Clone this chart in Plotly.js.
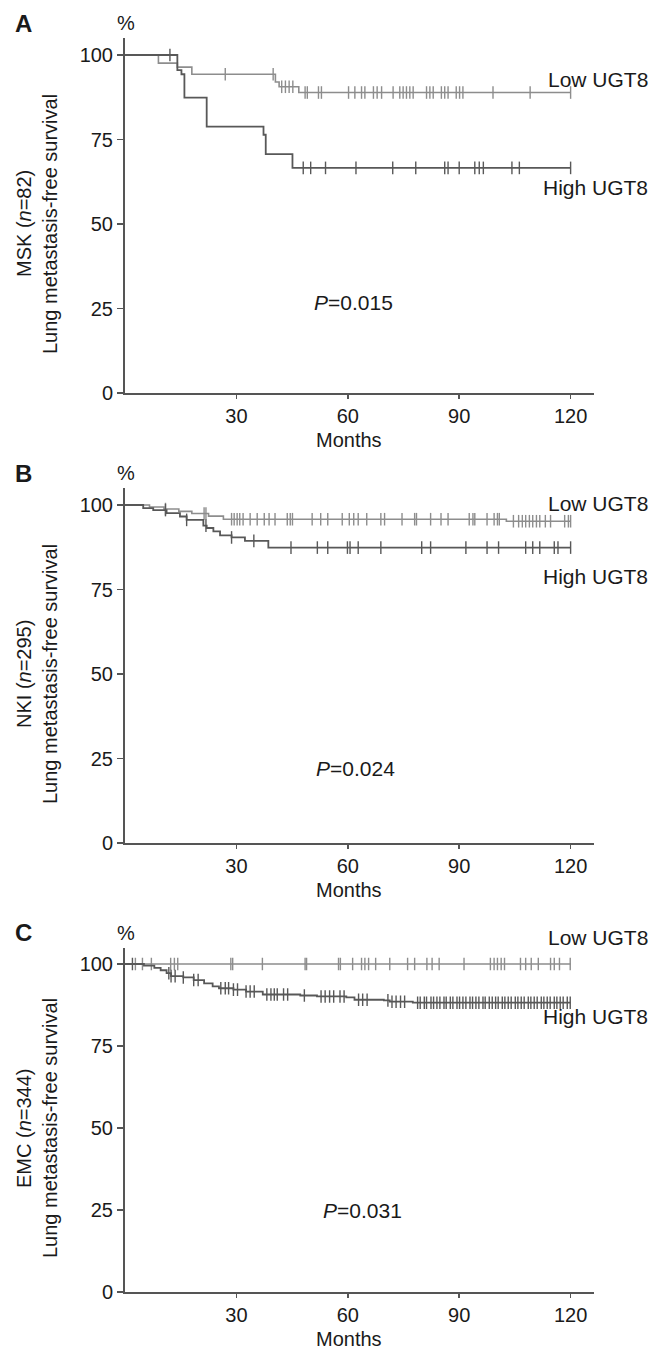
<!DOCTYPE html>
<html>
<head>
<meta charset="utf-8">
<script src="https://cdn.plot.ly/plotly-3.0.1.min.js"></script>
<style>html,body{margin:0;padding:0;background:#fff;}#chart{width:654px;height:1351px;}</style>
</head>
<body>
<div id="chart"></div>
<script>
// ---------- DATA ----------
// Panel A (MSK, n=82)
var aLowT  = [0, 9.0, 14.1, 18.0, 40.5, 41.5, 46.8, 120];
var aLowS  = [100, 97.6, 96.4, 94.3, 92.0, 90.6, 88.9, 88.9];
var aLowC  = [27.0, 39.9, 42.2, 43.2, 44.2, 45.2, 48.5, 49.1, 52.1, 52.9, 60.2, 61.9, 63.7, 64.6, 66.9, 67.9, 69.1, 72.2, 74.0, 74.9, 75.8, 76.7, 77.6, 81.2, 82.1, 83.0, 85.2, 86.1, 87.0, 89.2, 90.1, 91.0, 99.1, 109.1, 120];
var aHighT = [0, 14.1, 15.2, 16.0, 22.0, 37.3, 37.9, 45.1, 120];
var aHighS = [100, 95.5, 94.3, 87.4, 78.8, 76.4, 70.7, 66.6, 66.6];
var aHighC = [12.1, 48.0, 50.0, 54.0, 62.2, 72.1, 78.3, 86.1, 87.0, 90.0, 94.2, 95.4, 96.5, 104.2, 106.2, 120];

// Panel B (NKI, n=295)
var bLowT  = [0, 6.6, 10.5, 14.5, 18.0, 22.5, 26.5, 102.7, 120];
var bLowS  = [100, 99.4, 98.8, 98.1, 97.5, 96.7, 95.8, 95.2, 95.2];
var bLowC  = [10.9, 21.3, 21.8, 28.7, 29.4, 30.2, 30.9, 31.8, 33.7, 35.6, 37.5, 38.8, 40.4, 43.7, 44.5, 45.1, 50.4, 52.7, 54.6, 58.5, 60.4, 61.6, 62.8, 65.1, 68.9, 69.9, 74.6, 78.0, 78.5, 82.3, 85.1, 87.0, 92.7, 93.7, 94.2, 97.5, 99.4, 100.3, 100.8, 104.6, 106.0, 107.0, 107.9, 108.9, 109.8, 110.8, 111.7, 113.2, 114.6, 118.4, 119.4, 120];
var bHighT = [0, 4.9, 7.6, 11.2, 14.8, 16.6, 21.1, 22.0, 23.8, 25.6, 28.7, 32.3, 38.6, 120];
var bHighS = [100, 99.1, 98.5, 97.6, 96.6, 95.6, 93.9, 93.2, 92.2, 91.0, 90.4, 89.4, 87.4, 87.4];
var bHighC = [10.9, 16.6, 21.8, 28.7, 34.7, 44.7, 51.8, 54.6, 59.9, 60.6, 62.8, 68.9, 79.9, 82.3, 91.8, 97.5, 100.6, 107.9, 109.8, 111.7, 115.6, 116.6, 120];

// Panel C (EMC, n=344)
var cLowT  = [0, 120];
var cLowS  = [100, 100];
var cLowC  = [2.8, 4.7, 7.1, 12.3, 13.3, 14.2, 28.5, 29.0, 37.0, 48.5, 48.9, 57.5, 58.0, 61.3, 63.7, 64.6, 65.6, 67.5, 71.3, 76.1, 78.0, 81.3, 82.7, 84.6, 91.3, 98.4, 99.4, 100.3, 101.3, 102.2, 106.5, 107.9, 109.4, 111.3, 114.6, 115.6, 117.0, 119.9];
var cHighT = [0, 5.1, 7.9, 9.6, 11.2, 12.4, 15.7, 18.5, 21.3, 23.6, 25.3, 29.2, 32.6, 37.1, 47.2, 51.7, 59.6, 61.8, 69.7, 71.3, 77.5, 120];
var cHighS = [100, 99.5, 98.8, 98.1, 97.2, 96.3, 95.9, 95.1, 94.1, 93.2, 92.6, 92.2, 91.6, 90.7, 90.4, 90.1, 89.8, 89.1, 88.9, 88.5, 88.2, 88.2];
var cHighC = [2.0, 11.8, 12.4, 13.5, 15.7, 18.5, 19.7, 25.8, 27.0, 27.9, 29.2, 30.3, 32.6, 33.7, 34.8, 38.2, 39.3, 40.2, 41.0, 42.7, 43.8, 48.3, 52.8, 53.9, 55.1, 56.2, 57.9, 59.0, 62.9, 64.0, 65.2, 70.8, 71.9, 73.0, 74.2, 75.3, 78.8, 79.5, 80.6, 81.2, 82.4, 83.1, 84.0, 84.8, 85.9, 86.5, 87.6, 88.3, 89.4, 90.1, 91.0, 91.8, 92.9, 93.6, 94.5, 95.3, 96.4, 97.0, 98.1, 98.9, 99.8, 100.5, 101.6, 102.3, 103.2, 104.0, 105.1, 105.8, 106.7, 107.5, 108.6, 109.3, 110.2, 111.0, 112.1, 112.8, 113.7, 114.5, 115.6, 116.3, 117.2, 118.0, 119.1, 119.9];

var xTicks = [30, 60, 90, 120];
var yTicks = [0, 25, 50, 75, 100];
var panelLetters = ['A', 'B', 'C'];
var cohortTitles = ['MSK (<i>n</i>=82)', 'NKI (<i>n</i>=295)', 'EMC (<i>n</i>=344)'];
var yTitle = 'Lung metastasis-free survival';
var pValues = ['<i>P</i>=0.015', '<i>P</i>=0.024', '<i>P</i>=0.031'];
var groupNames = ['Low UGT8', 'High UGT8'];

// ---------- STYLE / LAYOUT ----------
var W = 654, H = 1351, ML = 125, MR = 60;
var LOW_COL = '#8d8d8d', HIGH_COL = '#585858', AX_COL = '#555555', TXT = '#1a1a1a';
var FONT = 'Liberation Sans, Arial, Helvetica, sans-serif';
// pixel geometry of each panel: [y px of value 0, y px of value 100]
var panelPx = [[393, 55], [843, 505], [1292, 964]];
var YMAX = 105, XMAX = 126.3;

function px2px(x) { return (x - ML) / (W - ML - MR); }
function py2p(y) { return 1 - y / H; }
function survAt(T, S, t) {
  var v = S[0];
  for (var i = 0; i < T.length; i++) { if (T[i] <= t) v = S[i]; }
  return v;
}

var groups = [
  [[aLowT, aLowS, aLowC], [aHighT, aHighS, aHighC]],
  [[bLowT, bLowS, bLowC], [bHighT, bHighS, bHighC]],
  [[cLowT, cLowS, cLowC], [cHighT, cHighS, cHighC]]
];

var traces = [];
var layout = {
  width: W, height: H,
  margin: {l: ML, r: MR, t: 0, b: 0},
  paper_bgcolor: '#ffffff', plot_bgcolor: '#ffffff',
  showlegend: false,
  font: {family: FONT, color: TXT, size: 20},
  annotations: []
};

// label rows for group names in each panel (y px): [low, high]
var nameY = [[79, 188], [503, 576], [937, 1016]];
var pPos = [[353, 302], [355, 768], [362, 1210]];

for (var p = 0; p < 3; p++) {
  var sfx = p === 0 ? '' : String(p + 1);
  var xa = 'x' + sfx, ya = 'y' + sfx;
  var y0 = panelPx[p][0], y100 = panelPx[p][1];
  var per = (y0 - y100) / 100;
  var yTop = y0 - YMAX * per;
  var cols = [LOW_COL, HIGH_COL];
  for (var g = 0; g < 2; g++) {
    var T = groups[p][g][0], S = groups[p][g][1], C = groups[p][g][2];
    traces.push({
      x: T, y: S, xaxis: xa, yaxis: ya, type: 'scatter', mode: 'lines',
      line: {shape: 'hv', color: cols[g], width: g === 0 ? 1.6 : 1.8},
      hoverinfo: 'skip'
    });
    traces.push({
      x: C, y: C.map(function (t) { return survAt(T, S, t); }),
      xaxis: xa, yaxis: ya, type: 'scatter', mode: 'markers',
      marker: {symbol: 'line-ns', size: 9, color: cols[g], line: {color: cols[g], width: 1.4}},
      hoverinfo: 'skip'
    });
  }
  layout['xaxis' + sfx] = {
    domain: [0, 1], range: [0, XMAX], anchor: ya,
    showline: true, linecolor: AX_COL, linewidth: 2,
    ticks: 'outside', ticklen: 4, tickwidth: 1.5, tickcolor: AX_COL,
    tickvals: xTicks, ticktext: xTicks.map(String),
    tickfont: {size: 20, color: TXT, family: FONT},
    showgrid: false, zeroline: false, fixedrange: true
  };
  layout['yaxis' + sfx] = {
    domain: [py2p(y0), py2p(yTop)], range: [0, YMAX], anchor: xa,
    showline: true, linecolor: AX_COL, linewidth: 2,
    ticks: 'outside', ticklen: 6, tickwidth: 1.5, tickcolor: AX_COL,
    tickvals: yTicks, ticktext: yTicks.map(String),
    tickfont: {size: 20, color: TXT, family: FONT},
    showgrid: false, zeroline: false, fixedrange: true
  };
  var ann = layout.annotations;
  // panel letter
  ann.push({xref: 'paper', yref: 'paper', x: px2px(23), y: py2p(yTop - 15), xanchor: 'center', yanchor: 'middle',
    text: '<b>' + panelLetters[p] + '</b>', showarrow: false, font: {size: 24, color: TXT, family: FONT}});
  // percent sign
  ann.push({xref: 'paper', yref: 'paper', x: px2px(126), y: py2p(yTop - 15), xanchor: 'center', yanchor: 'middle',
    text: '%', showarrow: false, font: {size: 20, color: TXT, family: FONT}});
  // Months
  ann.push({xref: 'paper', yref: 'paper', x: px2px(349), y: py2p(y0 + 47), xanchor: 'center', yanchor: 'middle',
    text: 'Months', showarrow: false, font: {size: 20, color: TXT, family: FONT}});
  // y titles
  var yMid = y0 - 50 * per;
  ann.push({xref: 'paper', yref: 'paper', x: px2px(24), y: py2p(yMid), xanchor: 'center', yanchor: 'middle',
    text: cohortTitles[p], textangle: -90, showarrow: false, font: {size: 20, color: TXT, family: FONT}});
  ann.push({xref: 'paper', yref: 'paper', x: px2px(50), y: py2p(yMid), xanchor: 'center', yanchor: 'middle',
    text: yTitle, textangle: -90, showarrow: false, font: {size: 20, color: TXT, family: FONT}});
  // group names
  for (var g2 = 0; g2 < 2; g2++) {
    ann.push({xref: 'paper', yref: 'paper', x: px2px(650), y: py2p(nameY[p][g2]), xanchor: 'right', yanchor: 'middle',
      text: groupNames[g2], showarrow: false, font: {size: 21, color: TXT, family: FONT}});
  }
  // P value
  ann.push({xref: 'paper', yref: 'paper', x: px2px(pPos[p][0]), y: py2p(pPos[p][1]), xanchor: 'center', yanchor: 'middle',
    text: pValues[p], showarrow: false, font: {size: 21, color: TXT, family: FONT}});
}

Plotly.newPlot('chart', traces, layout, {displayModeBar: false, staticPlot: true});
</script>
</body>
</html>
